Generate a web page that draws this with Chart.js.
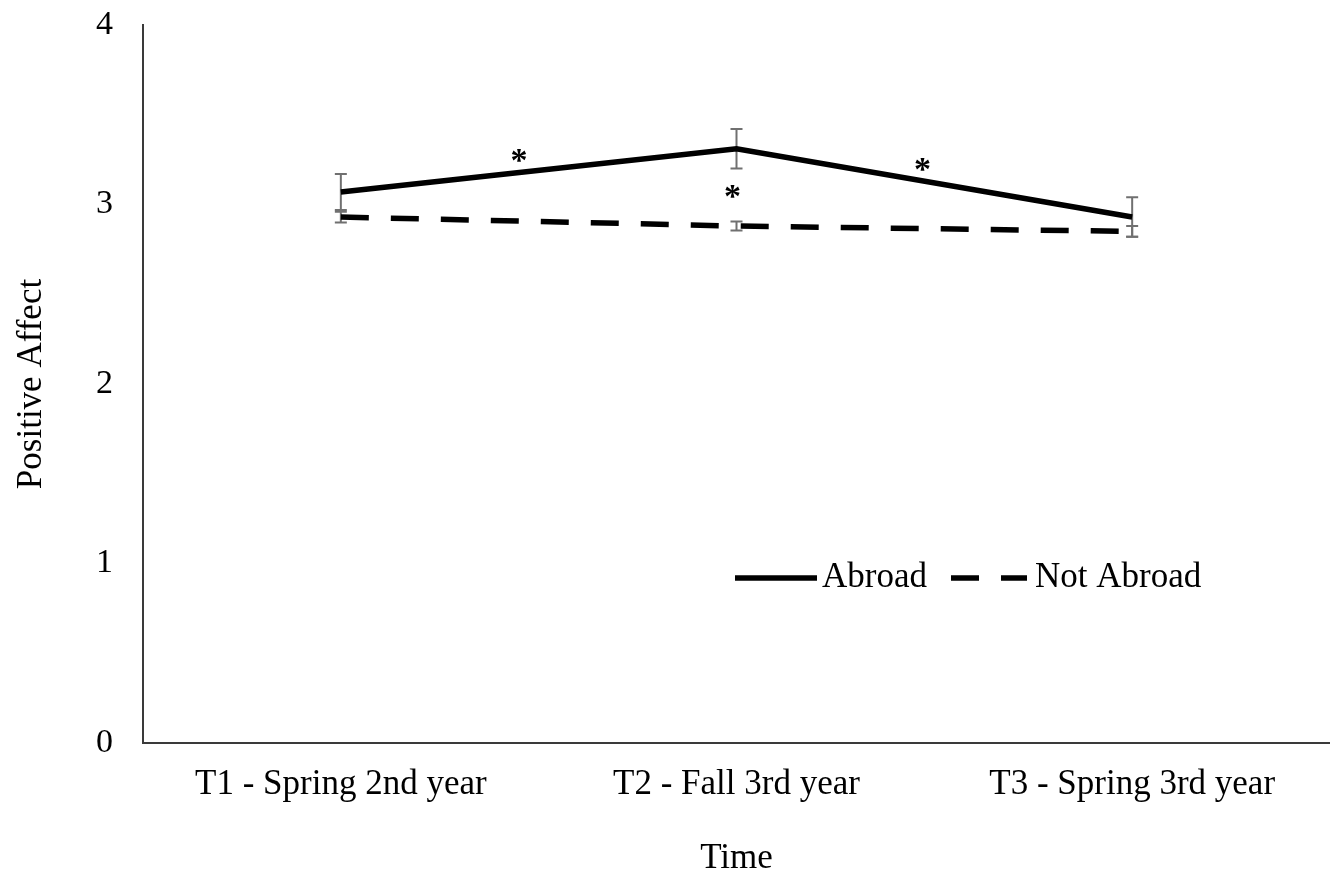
<!DOCTYPE html>
<html>
<head>
<meta charset="utf-8">
<script src="https://cdn.jsdelivr.net/npm/chart.js@4/dist/chart.umd.min.js"></script>
<style>
  html, body { margin: 0; padding: 0; background: #ffffff; }
  canvas { display: block; }
</style>
</head>
<body>
<canvas id="c" width="1330" height="875"></canvas>
<script>
// ---- data ----
const categories = ["T1 - Spring 2nd year", "T2 - Fall 3rd year", "T3 - Spring 3rd year"];
const seriesNames = ["Abroad", "Not Abroad"];
const abroad = [3.07, 3.31, 2.93];
const abroadErr = [0.10, 0.11, 0.11];
const notAbroad = [2.93, 2.88, 2.85];
const notAbroadErr = [0.03, 0.025, 0.03];
const yTicks = [0, 1, 2, 3, 4];
const sigX = [0.45, 0.99, 1.47];   // category position of significance marks
const sigY = [3.29, 3.09, 3.24];   // value position of significance marks
const sigLabel = ["*", "*", "*"];
const xTitle = "Time";
const yTitle = "Positive Affect";

const FONT = "'Liberation Serif', 'Times New Roman', serif";

const errorBarPlugin = {
  id: 'errorBars',
  beforeDatasetsDraw(chart) {
    const ctx = chart.ctx;
    const xs = chart.scales.x, ys = chart.scales.y;
    const sets = [[abroad, abroadErr], [notAbroad, notAbroadErr]];
    ctx.save();
    ctx.strokeStyle = '#707070';
    ctx.lineWidth = 2;
    sets.forEach(([vals, errs]) => {
      vals.forEach((v, i) => {
        const x = xs.getPixelForValue(i);
        const yTop = ys.getPixelForValue(v + errs[i]);
        const yBot = ys.getPixelForValue(v - errs[i]);
        ctx.beginPath();
        ctx.moveTo(x, yTop); ctx.lineTo(x, yBot);
        ctx.moveTo(x - 6, yTop); ctx.lineTo(x + 6, yTop);
        ctx.moveTo(x - 6, yBot); ctx.lineTo(x + 6, yBot);
        ctx.stroke();
      });
    });
    ctx.restore();
  }
};

const annotPlugin = {
  id: 'annot',
  afterDatasetsDraw(chart) {
    const ctx = chart.ctx;
    const xs = chart.scales.x, ys = chart.scales.y;
    ctx.save();
    ctx.fillStyle = '#000';
    ctx.font = "bold 34px " + FONT;
    ctx.textAlign = 'center';
    ctx.textBaseline = 'alphabetic';
    sigX.forEach((sx, i) => {
      const px = xs.getPixelForValue(sx);
      const py = ys.getPixelForValue(sigY[i]);
      ctx.fillText(sigLabel[i], px, py + 19);
    });
    // legend
    const lx = 735, ly = 578;
    ctx.strokeStyle = '#000';
    ctx.lineWidth = 5.5;
    ctx.beginPath(); ctx.moveTo(lx, ly); ctx.lineTo(lx + 82, ly); ctx.stroke();
    ctx.font = "35px " + FONT;
    ctx.textAlign = 'left';
    ctx.fillText(seriesNames[0], lx + 87, ly + 9);
    ctx.setLineDash([28, 22]);
    ctx.beginPath(); ctx.moveTo(951, ly); ctx.lineTo(1027, ly); ctx.stroke();
    ctx.setLineDash([]);
    ctx.fillText(seriesNames[1], 1035, ly + 9);
    ctx.restore();
  }
};

new Chart(document.getElementById('c'), {
  type: 'line',
  data: {
    labels: categories,
    datasets: [
      {
        label: seriesNames[0],
        data: abroad,
        borderColor: '#000',
        borderWidth: 5.5,
        pointRadius: 0,
        tension: 0,
        fill: false
      },
      {
        label: seriesNames[1],
        data: notAbroad,
        borderColor: '#000',
        borderWidth: 5.5,
        borderDash: [28, 22],
        pointRadius: 0,
        tension: 0,
        fill: false
      }
    ]
  },
  options: {
    responsive: false,
    animation: false,
    events: [],
    layout: { padding: { top: 25, right: 0, bottom: 0, left: 0 } },
    plugins: {
      legend: { display: false },
      tooltip: { enabled: false },
      title: { display: false }
    },
    scales: {
      x: {
        type: 'category',
        offset: true,
        grid: { display: true, color: 'rgba(0,0,0,0)', drawTicks: false },
        border: { display: true, color: '#3a3a3a', width: 2 },
        ticks: { color: '#000', font: { family: FONT, size: 35 }, padding: 21, maxRotation: 0, autoSkip: false },
        title: { display: true, text: xTitle, color: '#000', font: { family: FONT, size: 35 }, padding: { top: 0, bottom: -5 } },
        afterFit(scale) { scale.height = 132; }
      },
      y: {
        min: 0,
        max: 4,
        afterBuildTicks(scale) { scale.ticks = yTicks.map(v => ({ value: v })); },
        grid: { display: true, color: 'rgba(0,0,0,0)', drawTicks: false },
        border: { display: true, color: '#3a3a3a', width: 2 },
        ticks: { color: '#000', font: { family: FONT, size: 34 }, padding: 30 },
        title: { display: true, text: yTitle, color: '#000', font: { family: FONT, size: 35 }, padding: { top: 11, bottom: 0 } },
        afterFit(scale) { scale.width = 143; scale.paddingTop = 0; scale.paddingBottom = 0; }
      }
    }
  },
  plugins: [errorBarPlugin, annotPlugin]
});
</script>
</body>
</html>
